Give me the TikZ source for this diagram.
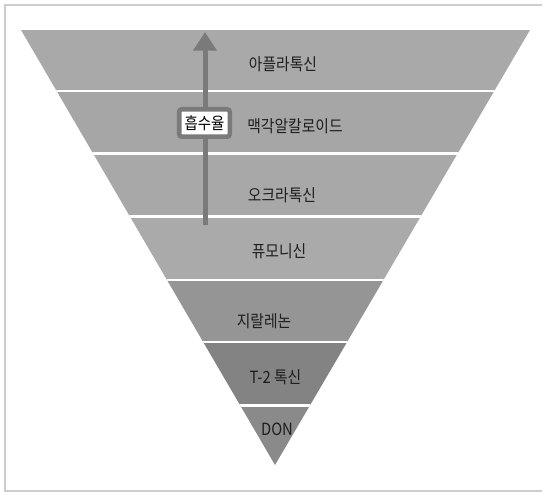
\documentclass[tikz,border=0pt]{standalone}
\usepackage{fontspec}
\setmainfont{Noto Sans CJK KR}[FakeStretch=0.88]
\usetikzlibrary{arrows.meta}

\definecolor{frameGray}{RGB}{205,205,205}
\definecolor{bandA}{RGB}{169,169,169}
\definecolor{bandB}{RGB}{166,166,166}
\definecolor{bandC}{RGB}{168,168,168}
\definecolor{bandD}{RGB}{170,170,170}
\definecolor{bandE}{RGB}{149,149,149}
\definecolor{bandF}{RGB}{131,131,131}
\definecolor{bandG}{RGB}{138,138,138}
\definecolor{arrowGray}{RGB}{122,122,122}
\definecolor{textGray}{RGB}{30,30,30}

\tikzset{every picture/.style={line width=0.75pt}}
\tikzset{
  layer label/.style={text=textGray,inner sep=0pt,font=\fontsize{12.6}{14}\selectfont},
  sep line/.style={white,line width=1.9pt},
  absorb arrow/.style={arrowGray,line width=3.75pt,-{Triangle[width=17pt,length=14pt]}},
  absorb box/.style={draw=arrowGray,line width=3.4pt,fill=white,rounded corners=2pt,inner sep=0pt,
    minimum width=37.9pt,minimum height=20.6pt,font=\fontsize{12.3}{14}\selectfont}
}

\begin{document}
\begin{tikzpicture}[x=0.75pt,y=0.75pt,yscale=-1,xscale=1]
\path (0,0) rectangle (543,492); %set diagram to 543 x 492

%Shape: Frame
\draw [frameGray,line width=1.5pt] (542,5) -- (5,5) -- (5,491) -- (542,491) ;

%Shape: Inverted Triangle, cut in bands
\begin{scope}
\clip (21,30) -- (530,30) -- (275,465) -- cycle ;
\fill [bandA] (0,30) rectangle (543,91) ;
\fill [bandB] (0,91) rectangle (543,153.5) ;
\fill [bandC] (0,153.5) rectangle (543,216.5) ;
\fill [bandD] (0,216.5) rectangle (543,280) ;
\fill [bandE] (0,280) rectangle (543,342) ;
\fill [bandF] (0,342) rectangle (543,405.5) ;
\fill [bandG] (0,405.5) rectangle (543,466) ;
%Straight Lines: white separators
\foreach \y in {91,153.5,216.5,280,342,405.5}
  \draw [sep line] (0,\y) -- (543,\y) ;
\end{scope}

%Straight Lines: absorption arrow
\coordinate (arrowbottom) at (205,225) ;
\coordinate (arrowtop) at (205,32) ;
\draw [absorb arrow] (arrowbottom) -- (arrowtop) ;

% Text Node
\node [absorb box] (absorb) at (204.5,123) {흡수율} ;
% Text Node
\node [layer label] (aflatoxin) at (283,64.5) {아플라톡신} ;
% Text Node
\node [layer label] (ergot) at (295,126) {맥각알칼로이드} ;
% Text Node
\node [layer label] (ochratoxin) at (282,195) {오크라톡신} ;
% Text Node
\node [layer label] (fumonisin) at (279,251.5) {퓨모니신} ;
% Text Node
\node [layer label] (zearalenone) at (264,321) {지랄레논} ;
% Text Node
\node [layer label] (ttwo) at (275.5,377.5) {T-2 톡신} ;
% Text Node
\node [layer label] (don) at (277,429) {DON} ;

\end{tikzpicture}
\end{document}
